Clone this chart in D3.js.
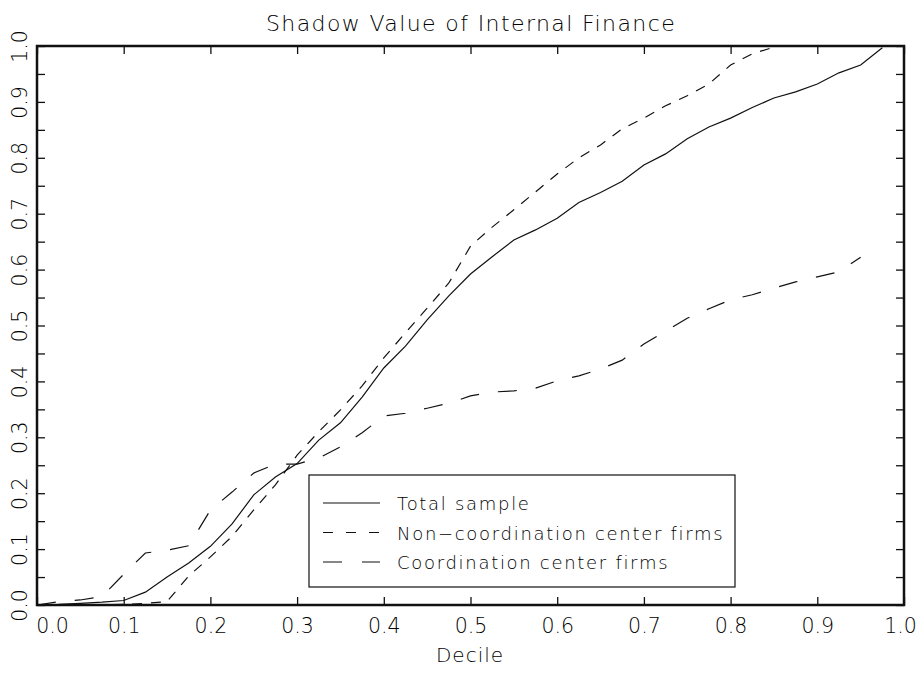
<!DOCTYPE html>
<html>
<head>
<meta charset="utf-8">
<script src="https://cdn.jsdelivr.net/npm/d3@7"></script>
<style>
  body { margin: 0; background: #fff; }
  text { font-family: "DejaVu Sans", "Liberation Sans", sans-serif; font-weight: 300; fill: #000; }
</style>
</head>
<body>
<div id="chart"></div>
<script>
// x positions (decile share) and values
var totalX = [0, 0.025, 0.05, 0.075, 0.1, 0.125, 0.15, 0.175, 0.2, 0.225, 0.25, 0.275, 0.3, 0.325, 0.35, 0.375, 0.4, 0.425, 0.45, 0.475, 0.5, 0.525, 0.55, 0.575, 0.6, 0.625, 0.65, 0.675, 0.7, 0.725, 0.75, 0.775, 0.8, 0.825, 0.85, 0.875, 0.9, 0.925, 0.95, 0.975];
var totalY = [0, 0.001, 0.003, 0.005, 0.008, 0.023, 0.05, 0.075, 0.105, 0.145, 0.197, 0.229, 0.253, 0.295, 0.326, 0.372, 0.424, 0.463, 0.51, 0.553, 0.592, 0.623, 0.653, 0.671, 0.692, 0.72, 0.738, 0.758, 0.787, 0.807, 0.834, 0.855, 0.871, 0.89, 0.907, 0.918, 0.932, 0.952, 0.966, 0.997];

var nonCoordX = [0, 0.05, 0.1, 0.125, 0.15, 0.175, 0.2, 0.225, 0.25, 0.275, 0.3, 0.325, 0.35, 0.375, 0.4, 0.425, 0.45, 0.475, 0.5, 0.525, 0.55, 0.575, 0.6, 0.625, 0.65, 0.675, 0.7, 0.725, 0.75, 0.775, 0.8, 0.825, 0.85];
var nonCoordY = [0, 0, 0.001, 0.003, 0.006, 0.052, 0.086, 0.123, 0.17, 0.215, 0.268, 0.31, 0.349, 0.392, 0.442, 0.487, 0.531, 0.576, 0.642, 0.676, 0.707, 0.739, 0.771, 0.8, 0.823, 0.852, 0.871, 0.893, 0.911, 0.932, 0.966, 0.986, 0.998];

var coordX = [0, 0.025, 0.05, 0.075, 0.1, 0.125, 0.15, 0.175, 0.2, 0.225, 0.25, 0.275, 0.3, 0.325, 0.35, 0.375, 0.4, 0.425, 0.45, 0.475, 0.5, 0.525, 0.55, 0.575, 0.6, 0.625, 0.65, 0.675, 0.7, 0.725, 0.75, 0.775, 0.8, 0.825, 0.85, 0.875, 0.9, 0.925, 0.95];
var coordY = [0, 0.006, 0.009, 0.015, 0.055, 0.093, 0.098, 0.106, 0.17, 0.202, 0.236, 0.252, 0.252, 0.263, 0.283, 0.308, 0.338, 0.343, 0.352, 0.361, 0.374, 0.381, 0.383, 0.388, 0.401, 0.41, 0.422, 0.438, 0.467, 0.49, 0.513, 0.53, 0.546, 0.555, 0.567, 0.578, 0.587, 0.596, 0.622];

var xTicks = [0, 0.1, 0.2, 0.3, 0.4, 0.5, 0.6, 0.7, 0.8, 0.9, 1.0];
var yTicks = [0, 0.05, 0.1, 0.15, 0.2, 0.25, 0.3, 0.35, 0.4, 0.45, 0.5, 0.55, 0.6, 0.65, 0.7, 0.75, 0.8, 0.85, 0.9, 0.95, 1.0];

var seriesNames = ["Total sample", "Non\u2212coordination center firms", "Coordination center firms"];

// sizes
var width = 918, height = 675;
var margin = {top: 46, right: 14, bottom: 70, left: 37};
var plotW = width - margin.left - margin.right;
var plotH = height - margin.top - margin.bottom;

var svg = d3.select("#chart")
    .append("svg")
    .attr("width", width)
    .attr("height", height);

var g = svg.append("g")
    .attr("transform", "translate(" + margin.left + "," + margin.top + ")");

var x = d3.scaleLinear().domain([0, 1]).range([0, plotW]);
var y = d3.scaleLinear().domain([0, 1]).range([plotH, 0]);

var fmt = d3.format(".1f");

// bottom axis with labels
var xAxis = g.append("g")
    .attr("transform", "translate(0," + plotH + ")")
    .call(d3.axisBottom(x).tickValues(xTicks).tickSizeInner(-8).tickSizeOuter(0).tickPadding(13).tickFormat(fmt));

// top axis, ticks only
var xTop = g.append("g")
    .call(d3.axisTop(x).tickValues(xTicks).tickSizeInner(-8).tickSizeOuter(0).tickFormat(""));

// left axis, labels every 0.1
var yAxis = g.append("g")
    .call(d3.axisLeft(y).tickValues(yTicks).tickSizeInner(-8).tickSizeOuter(0)
        .tickFormat(function(d) { return Math.round(d * 100) % 10 === 0 ? fmt(d) : ""; }));

// right axis, ticks only
var yRight = g.append("g")
    .attr("transform", "translate(" + plotW + ",0)")
    .call(d3.axisRight(y).tickValues(yTicks).tickSizeInner(-8).tickSizeOuter(0).tickFormat(""));

[xAxis, xTop, yAxis, yRight].forEach(function(a) {
    a.select(".domain").remove();
    a.selectAll(".tick line").attr("stroke", "#111").attr("stroke-width", 1.3);
    a.selectAll("text").style("font-size", "20.5px").attr("fill", "#000");
});

// first and last x labels are nudged inward like the original
xAxis.selectAll(".tick text")
    .attr("dx", function(d) { return d === 0 ? 15 : (d === 1 ? -4 : 0); });

// rotate y labels
yAxis.selectAll(".tick text")
    .attr("x", null)
    .attr("dy", null)
    .attr("text-anchor", "middle")
    .attr("transform", "translate(-10,0) rotate(-90)");

// frame
g.append("rect")
    .attr("x", 0)
    .attr("y", 0)
    .attr("width", plotW)
    .attr("height", plotH)
    .attr("fill", "none")
    .attr("stroke", "#111")
    .attr("stroke-width", 2.5);

// lines
var line = d3.line()
    .x(function(d) { return x(d[0]); })
    .y(function(d) { return y(d[1]); });

var dashes = [null, "10,9", "19,19"];
var series = [d3.zip(totalX, totalY), d3.zip(nonCoordX, nonCoordY), d3.zip(coordX, coordY)];

series.forEach(function(s, i) {
    g.append("path")
        .datum(s)
        .attr("d", line)
        .attr("fill", "none")
        .attr("stroke", "#111")
        .attr("stroke-width", 1.2)
        .attr("stroke-dasharray", dashes[i]);
});

// legend
var legend = g.append("g")
    .attr("transform", "translate(" + (309 - margin.left) + "," + (475 - margin.top) + ")");

legend.append("rect")
    .attr("width", 426)
    .attr("height", 112)
    .attr("fill", "#fff")
    .attr("stroke", "#111")
    .attr("stroke-width", 1.2);

seriesNames.forEach(function(name, i) {
    var yy = 28 + i * 29.5;
    legend.append("line")
        .attr("x1", 14)
        .attr("x2", 71)
        .attr("y1", yy)
        .attr("y2", yy)
        .attr("stroke", "#111")
        .attr("stroke-width", 1.2)
        .attr("stroke-dasharray", i === 1 ? "10,13" : (i === 2 ? "19,20" : null));
    legend.append("text")
        .attr("x", 88)
        .attr("y", yy + 7)
        .style("font-size", "18px")
        .style("letter-spacing", "1.7px")
        .text(name);
});

// title and axis label
svg.append("text")
    .attr("x", 471)
    .attr("y", 31)
    .attr("text-anchor", "middle")
    .style("font-size", "22px")
    .style("letter-spacing", "1.4px")
    .text("Shadow Value of Internal Finance");

svg.append("text")
    .attr("x", 470)
    .attr("y", 662)
    .attr("text-anchor", "middle")
    .style("font-size", "20px")
    .style("letter-spacing", "1px")
    .text("Decile");
</script>
</body>
</html>
